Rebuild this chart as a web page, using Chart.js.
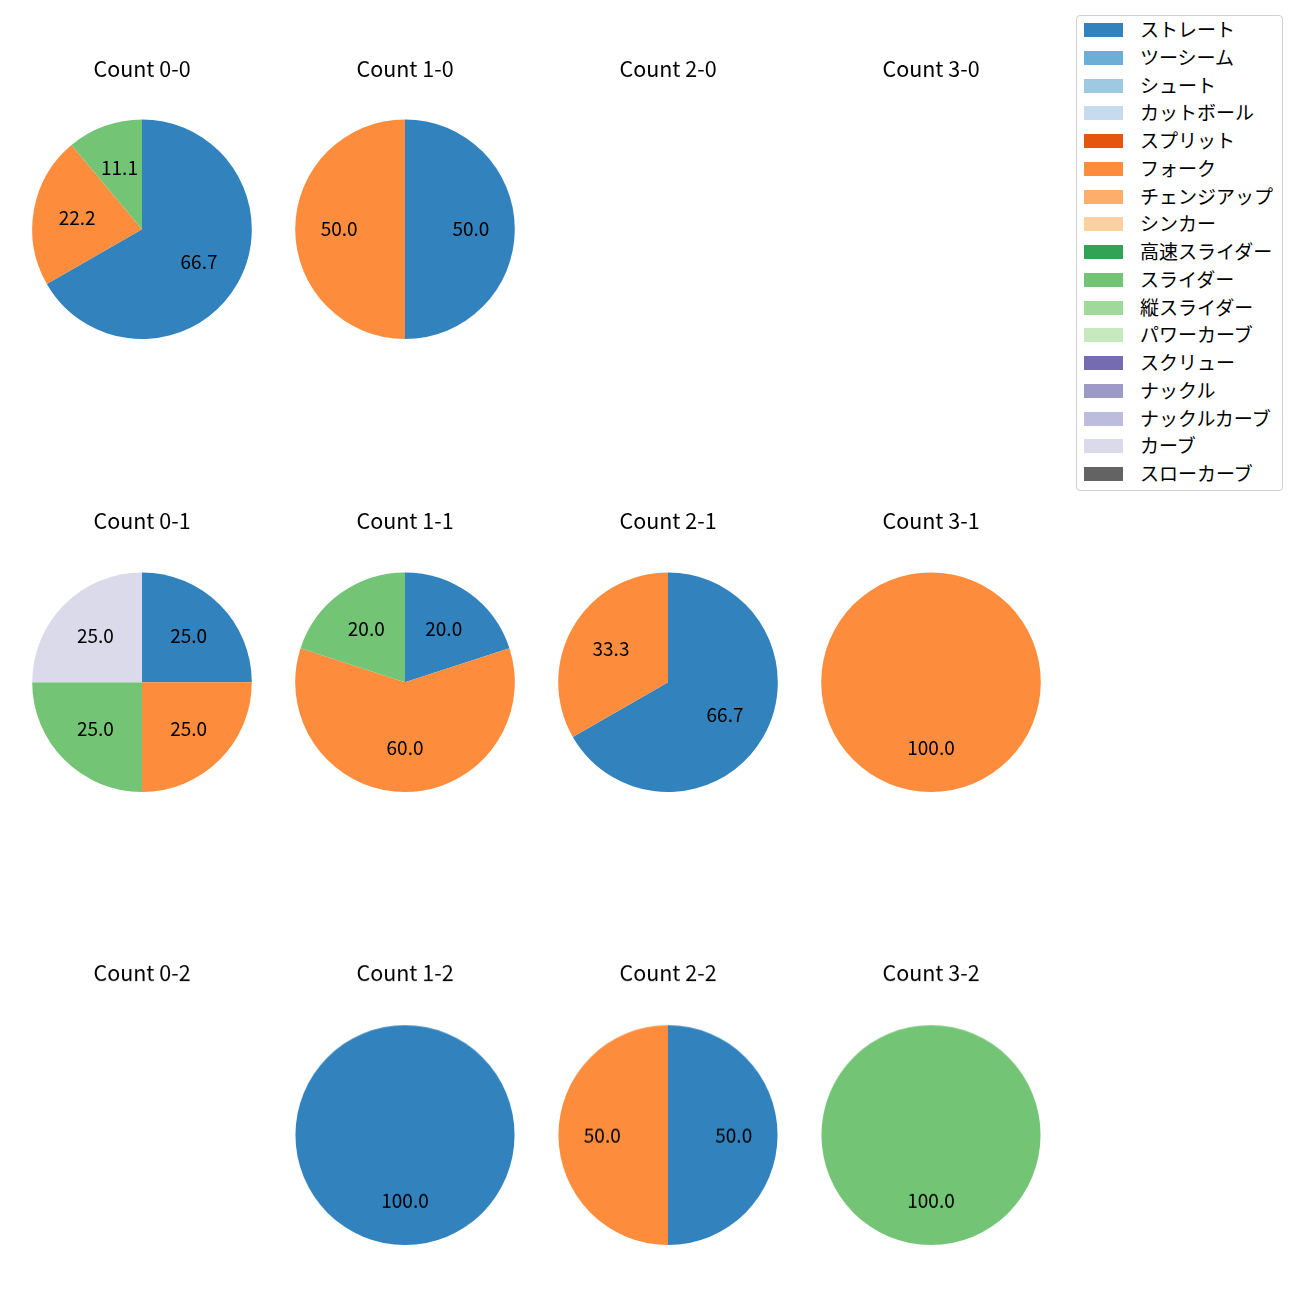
<!DOCTYPE html>
<html>
<head>
<meta charset="utf-8">
<script src="https://cdn.jsdelivr.net/npm/chart.js@4"></script>
<style>
  body { margin: 0; background: #fff; }
  #wrap { position: relative; width: 1300px; height: 1300px; font-family: "Noto Sans CJK JP", "Noto Sans", sans-serif; }
  #wrap canvas { position: absolute; }
  #legend { position: absolute; left: 1076px; top: 15px; width: 205px; height: 474px;
            border: 1px solid #d0d0d0; border-radius: 4px; background: #fff; }
  .item { position: absolute; left: 0; height: 20px; }
  .sw { position: absolute; left: 7px; top: 3px; width: 39px; height: 14px; }
  .lb { position: absolute; left: 63px; top: -3px; font-size: 19px; color: #000; white-space: nowrap; line-height: 24px; }
</style>
</head>
<body>
<div id="wrap"><div id="legend"></div></div>
<script>
// pitch types and their colours (tab20c)
var pitchTypes = ['ストレート', 'ツーシーム', 'シュート', 'カットボール', 'スプリット', 'フォーク',
  'チェンジアップ', 'シンカー', '高速スライダー', 'スライダー', '縦スライダー', 'パワーカーブ',
  'スクリュー', 'ナックル', 'ナックルカーブ', 'カーブ', 'スローカーブ'];
var pitchColors = ['#3182bd', '#6baed6', '#9ecae1', '#c6dbef', '#e6550d', '#fd8d3c',
  '#fdae6b', '#fdd0a2', '#31a354', '#74c476', '#a1d99b', '#c7e9c0',
  '#756bb1', '#9e9ac8', '#bcbddc', '#dadaeb', '#636363'];

// counts (balls-strikes) in grid order
var countTitles = ['Count 0-0', 'Count 1-0', 'Count 2-0', 'Count 3-0',
  'Count 0-1', 'Count 1-1', 'Count 2-1', 'Count 3-1',
  'Count 0-2', 'Count 1-2', 'Count 2-2', 'Count 3-2'];

// share (%) per pitch type for each count
var pie00 = {'ストレート': 66.7, 'フォーク': 22.2, 'スライダー': 11.1};
var pie10 = {'ストレート': 50.0, 'フォーク': 50.0};
var pie20 = {};
var pie30 = {};
var pie01 = {'ストレート': 25.0, 'フォーク': 25.0, 'スライダー': 25.0, 'カーブ': 25.0};
var pie11 = {'ストレート': 20.0, 'フォーク': 60.0, 'スライダー': 20.0};
var pie21 = {'ストレート': 66.7, 'フォーク': 33.3};
var pie31 = {'フォーク': 100.0};
var pie02 = {};
var pie12 = {'ストレート': 100.0};
var pie22 = {'ストレート': 50.0, 'フォーク': 50.0};
var pie32 = {'スライダー': 100.0};
var pies = [pie00, pie10, pie20, pie30, pie01, pie11, pie21, pie31, pie02, pie12, pie22, pie32];

var colX = [142, 404.5, 667.5, 930.5];
var rowY = [229.5, 682.5, 1135];
var titleY = [69, 521, 973];
var R = 110;

// percentage labels at 0.6 of the radius
var pctLabels = {
  id: 'pctLabels',
  afterDatasetsDraw: function(chart) {
    var ctx = chart.ctx;
    var meta = chart.getDatasetMeta(0);
    var vals = chart.data.datasets[0].data;
    ctx.save();
    ctx.font = '19px "Noto Sans CJK JP", sans-serif';
    ctx.fillStyle = '#000';
    ctx.textAlign = 'center';
    ctx.textBaseline = 'middle';
    meta.data.forEach(function(arc, i) {
      var mid = (arc.startAngle + arc.endAngle) / 2;
      var r = arc.outerRadius * 0.6;
      ctx.fillText(vals[i].toFixed(1), arc.x + Math.cos(mid) * r, arc.y + Math.sin(mid) * r);
    });
    ctx.restore();
  }
};

var wrap = document.getElementById('wrap');
var titleSize = 21.5;
var titleH = titleSize * 1.2;

pies.forEach(function(p, k) {
  var col = k % 4, row = Math.floor(k / 4);
  var labels = [], data = [], colors = [];
  pitchTypes.forEach(function(t, i) {
    if (p[t] !== undefined) { labels.push(t); data.push(p[t]); colors.push(pitchColors[i]); }
  });
  var top = titleY[row] - titleH / 2;
  var gap = (rowY[row] - R) - top - titleH;
  var cv = document.createElement('canvas');
  var w = 262, h = titleH + gap + 2 * R;
  cv.width = w; cv.height = h;
  cv.style.width = w + 'px'; cv.style.height = h + 'px';
  cv.style.left = (colX[col] - w / 2) + 'px';
  cv.style.top = top + 'px';
  wrap.appendChild(cv);
  new Chart(cv.getContext('2d'), {
    type: 'pie',
    data: {
      labels: labels,
      datasets: [{ data: data, backgroundColor: colors, borderWidth: 0, hoverOffset: 0, offset: 0 }]
    },
    options: {
      responsive: false,
      animation: false,
      events: [],
      layout: { padding: 0 },
      plugins: {
        legend: { display: false },
        tooltip: { enabled: false },
        title: {
          display: true,
          text: countTitles[k],
          color: '#000',
          font: { family: '"Noto Sans CJK JP", sans-serif', size: titleSize, weight: 'normal', lineHeight: 1.2 },
          padding: { top: 0, bottom: gap }
        }
      }
    },
    plugins: [pctLabels]
  });
});

// shared legend
var legend = document.getElementById('legend');
pitchTypes.forEach(function(t, i) {
  var it = document.createElement('div');
  it.className = 'item';
  it.style.top = (4 + i * 27.75) + 'px';
  it.innerHTML = '<div class="sw" style="background:' + pitchColors[i] + '"></div><div class="lb">' + t + '</div>';
  legend.appendChild(it);
});
</script>
</body>
</html>
